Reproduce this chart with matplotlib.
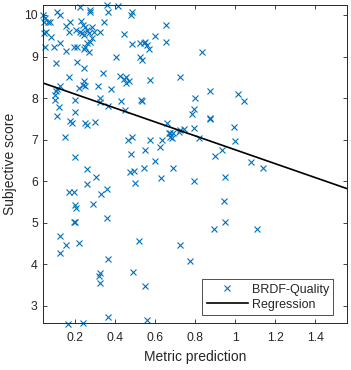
import matplotlib
matplotlib.use("Agg")
import matplotlib.pyplot as plt

plt.rcParams['font.family'] = ['Liberation Sans', 'DejaVu Sans']

# Metric prediction (x) and subjective score (y) for BRDF-Quality
metric_pred = [
    0.0385, 0.05, 0.045, 0.0615, 0.0715, 0.1085, 0.1215, 0.225, 0.275, 0.2715,
    0.3585, 0.3635, 0.4115, 0.4785, 0.485, 0.655, 0.055, 0.045, 0.0785, 0.155,
    0.1715, 0.1665, 0.125, 0.05, 0.0915, 0.155, 0.1915, 0.2085, 0.205, 0.2285,
    0.2365, 0.25, 0.225, 0.2335, 0.2415, 0.2585, 0.2665, 0.2835, 0.2915, 0.2835,
    0.275, 0.2585, 0.25, 0.2415, 0.2665, 0.325, 0.3415, 0.4415, 0.4835, 0.525,
    0.5415, 0.55, 0.5585, 0.5665, 0.5965, 0.6515, 0.1035, 0.2085, 0.2415, 0.3365,
    0.405, 0.525, 0.535, 0.1665, 0.2415, 0.425, 0.4415, 0.455, 0.47, 0.575,
    0.7215,
    0.1215, 0.105, 0.10, 0.11, 0.10, 0.1165, 0.1085, 0.20, 0.20, 0.2165,
    0.2385, 0.25, 0.3115, 0.38, 0.3215, 0.325, 0.3635, 0.43, 0.45, 0.455,
    0.5285, 0.5335, 0.175, 0.1835, 0.25, 0.2585, 0.30, 0.15, 0.20, 0.4615,
    0.4835, 0.4785, 0.55, 0.5715, 0.60, 0.6215, 0.6335, 0.6585, 0.6665, 0.675,
    0.6715, 0.6835, 0.6885, 0.7165, 0.725, 0.745, 0.7835, 0.7915, 0.795,
    0.2585, 0.305, 0.2585, 0.1665, 0.1915, 0.3285, 0.3585, 0.20, 0.205, 0.2885,
    0.1915, 0.20, 0.3585, 0.125, 0.155, 0.2165, 0.475, 0.4915, 0.545, 0.63,
    0.6865, 0.4965, 0.7915, 0.5165, 0.725,
    0.1215, 0.775, 0.3615, 0.3215, 0.3165, 0.3215, 0.4885, 0.5465, 0.1635, 0.2365,
    0.3615, 0.5585,
    0.80, 0.8715, 1.0165, 1.045, 0.8715, 0.875, 0.9965, 0.8165, 1.00, 0.9335,
    0.8965, 1.08, 1.1415, 0.8335, 0.95, 0.945, 0.95, 0.895, 1.1115,
]
subjective = [
    10.00, 9.92, 9.84, 9.82, 9.84, 10.08, 10.00, 10.19, 10.12, 10.07,
    10.24, 10.06, 10.22, 10.00, 10.06, 9.76, 9.60, 9.56, 9.48, 9.74,
    9.84, 9.58, 9.33, 9.22, 9.22, 9.14, 9.24, 9.22, 9.64, 9.86,
    9.76, 9.72, 9.60, 9.56, 9.52, 9.64, 9.56, 9.70, 9.60, 9.44,
    9.36, 9.32, 9.24, 9.18, 9.12, 9.60, 9.82, 9.54, 9.30, 9.32,
    9.32, 9.36, 9.28, 9.18, 9.50, 9.34, 8.85, 8.86, 8.72, 8.61,
    9.00, 9.00, 8.92, 8.50, 8.40, 8.52, 8.45, 8.50, 8.41, 8.44,
    8.50,
    8.29, 8.16, 8.08, 8.22, 7.96, 7.78, 7.57, 7.96, 7.67, 8.24,
    8.32, 8.29, 8.28, 8.21, 8.00, 7.91, 7.81, 7.94, 7.71, 8.36,
    7.96, 7.94, 7.46, 7.40, 7.40, 7.35, 7.43, 7.06, 6.59, 6.99,
    7.07, 6.66, 6.74, 6.99, 6.49, 6.82, 6.99, 7.40, 7.17, 7.15,
    7.07, 7.03, 7.15, 7.19, 7.23, 7.25, 7.62, 7.73, 7.27,
    6.29, 6.10, 5.93, 5.74, 5.74, 5.69, 5.81, 5.43, 5.35, 5.45,
    5.01, 5.01, 5.11, 4.69, 4.47, 4.51, 6.23, 6.25, 6.31, 6.07,
    6.31, 5.95, 6.01, 4.56, 4.47,
    4.28, 4.08, 4.13, 3.79, 3.72, 3.55, 3.81, 3.48, 2.57, 2.58,
    2.73, 2.66,
    8.00, 8.17, 8.10, 7.93, 7.49, 7.52, 7.30, 7.03, 6.97, 6.75,
    6.61, 6.46, 6.31, 9.10, 6.10, 5.53, 5.01, 4.85, 4.85,
]

# Regression line (linear fit) coefficients
reg_slope = -1.671
reg_intercept = 8.427
x_limits = [0.04, 1.558]
y_limits = [2.58, 10.24]
x_ticks = [0.2, 0.4, 0.6, 0.8, 1.0, 1.2, 1.4]
x_ticklabels = ['0.2', '0.4', '0.6', '0.8', '1', '1.2', '1.4']
y_ticks = [3, 4, 5, 6, 7, 8, 9, 10]

fig = plt.figure(figsize=(3.51, 3.70), dpi=100)
ax = fig.add_axes([0.1234, 0.1262, 0.8644, 0.8603])

blue = '#0072BD'
ax.plot(metric_pred, subjective, linestyle='none', marker='x', color=blue,
        markersize=4.6, markeredgewidth=0.8, label='BRDF-Quality', clip_on=False)
reg_x = x_limits
reg_y = [reg_intercept + reg_slope * v for v in reg_x]
ax.plot(reg_x, reg_y, color='black', linewidth=1.2, label='Regression')

ax.set_xlim(x_limits)
ax.set_ylim(y_limits)
ax.set_xticks(x_ticks)
ax.set_xticklabels(x_ticklabels)
ax.set_yticks(y_ticks)

axcol = '#262626'
for s in ax.spines.values():
    s.set_color(axcol)
    s.set_linewidth(0.7)
ax.tick_params(direction='in', length=3, width=0.6, colors=axcol,
               top=True, right=True, labelsize=8.8)
ax.tick_params(axis='x', pad=6.5)
ax.tick_params(axis='y', pad=4)
ax.set_xlabel('Metric prediction', fontsize=10, color=axcol, labelpad=4)
ax.set_ylabel('Subjective score', fontsize=10, color=axcol, labelpad=5)

leg = ax.legend(loc='lower right', bbox_to_anchor=(0.956, 0.026),
                borderaxespad=0, fontsize=9, fancybox=False, frameon=True,
                edgecolor='black', handlelength=3.3, handletextpad=0.3,
                labelspacing=0.25, borderpad=0.35)
leg.get_frame().set_linewidth(0.6)
for t in leg.get_texts():
    t.set_color(axcol)

fig.savefig('out.png', dpi=100)
